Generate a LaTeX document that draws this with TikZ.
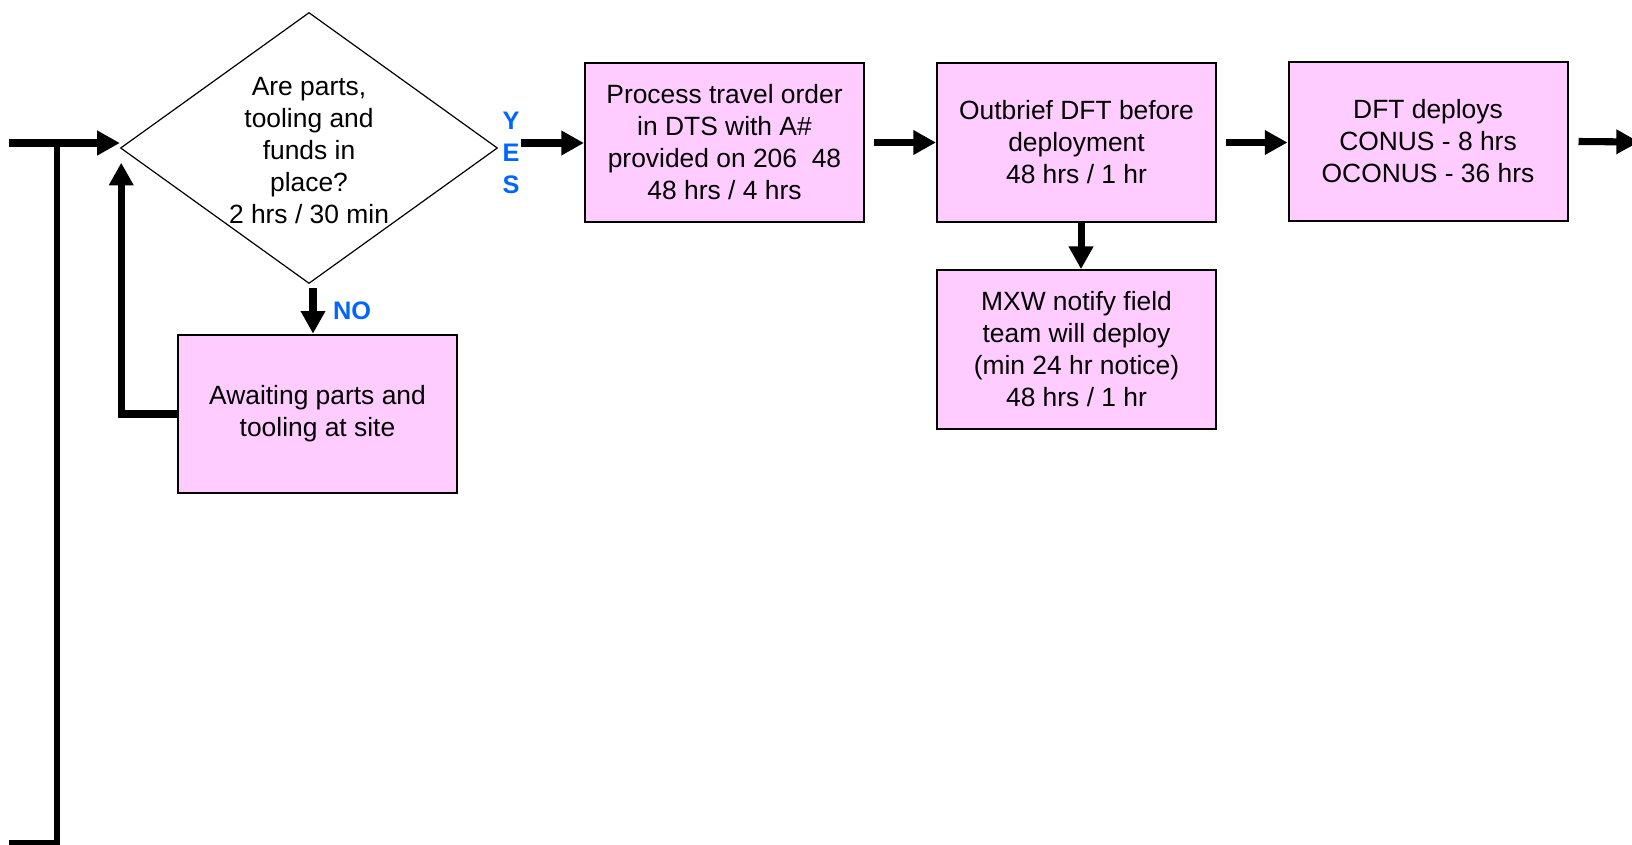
\documentclass[tikz,border=0pt]{standalone}
\usepackage{fontspec}
\setmainfont{Liberation Sans}
\usetikzlibrary{arrows.meta,shapes.geometric}
\definecolor{boxpink}{HTML}{FFCCFF}
\definecolor{ansblue}{HTML}{0066FF}
\begin{document}
\begin{tikzpicture}[x=0.75pt,y=-0.75pt,
  every node/.style={font=\fontsize{19.8pt}{24pt}\selectfont},
  stepbox/.style={draw=black,line width=1.5pt,fill=boxpink,rectangle,
    minimum width=209.25pt,minimum height=119pt,inner sep=0pt,align=center},
  decision/.style={draw=black,line width=0.9pt,diamond,fill=white,
    minimum width=282.75pt,minimum height=203.25pt,inner sep=0pt},
  answer/.style={text=ansblue,font=\fontsize{19pt}{24pt}\selectfont\bfseries,align=center,inner sep=0pt},
  flow/.style={line width=5.3pt,-{Triangle[length=17pt,width=17.5pt]}},
  plain/.style={line width=4.3pt}]
\useasboundingbox (0,0) rectangle (1632,845);

% decision
\node[decision] (dec) at (309,148) {};
\node[align=center,inner sep=0pt] (dectext) at (309,151)
  {Are parts,\\tooling and\\funds in\\place?\\2 hrs / 30 min};

% process steps
\node[stepbox] (await) at (317.5,414) {Awaiting parts and\\tooling at site};
\node[stepbox] (proc) at (724.5,142.5)
  {Process travel order\\in DTS with A\#\\provided on 206~~48\\48 hrs / 4 hrs};
\node[stepbox] (outb) at (1076.5,142.5)
  {Outbrief DFT before\\deployment\\48 hrs / 1 hr};
\node[stepbox] (dft) at (1428,141.5)
  {DFT deploys\\CONUS - 8 hrs\\OCONUS - 36 hrs};
\node[stepbox] (mxw) at (1076.5,349.5)
  {MXW notify field\\team will deploy\\(min 24 hr notice)\\48 hrs / 1 hr};

% answer labels
\node[answer] (yes) at (511,153) {Y\\E\\S};
\node[answer] (no) at (352,311) {NO};

% connector end points
\coordinate (in0) at (9,143);
\coordinate (j1) at (57,143);
\coordinate (j2) at (57,843);
\coordinate (j3) at (9,843);
\coordinate (yesstart) at (521,143);
\coordinate (outend) at (1639,142);

% incoming flow and return line
\draw[flow] (in0) -- (in0 -| dec.west);
\draw[plain] (j3) -- (j2) -- (j1);

% NO branch and loop back
\draw[flow] ([xshift=3pt,yshift=-3pt]dec.south) -- ([xshift=3pt]dec.south |- await.north);
\draw[flow] (await.west) -| ([xshift=1pt,yshift=-11pt]dec.west);

% YES branch
\draw[flow] (yesstart) -- (yesstart -| proc.west);
\draw[flow] ([xshift=7pt]proc.east) -- (outb.west);
\draw[flow] ([xshift=7pt]outb.east) -- (outb.east -| dft.west);
\draw[flow] ([xshift=7.5pt]dft.east) -- (outend);
\draw[flow] ([xshift=3.4pt]outb.south) -- ([xshift=3.4pt]mxw.north);
\end{tikzpicture}
\end{document}
